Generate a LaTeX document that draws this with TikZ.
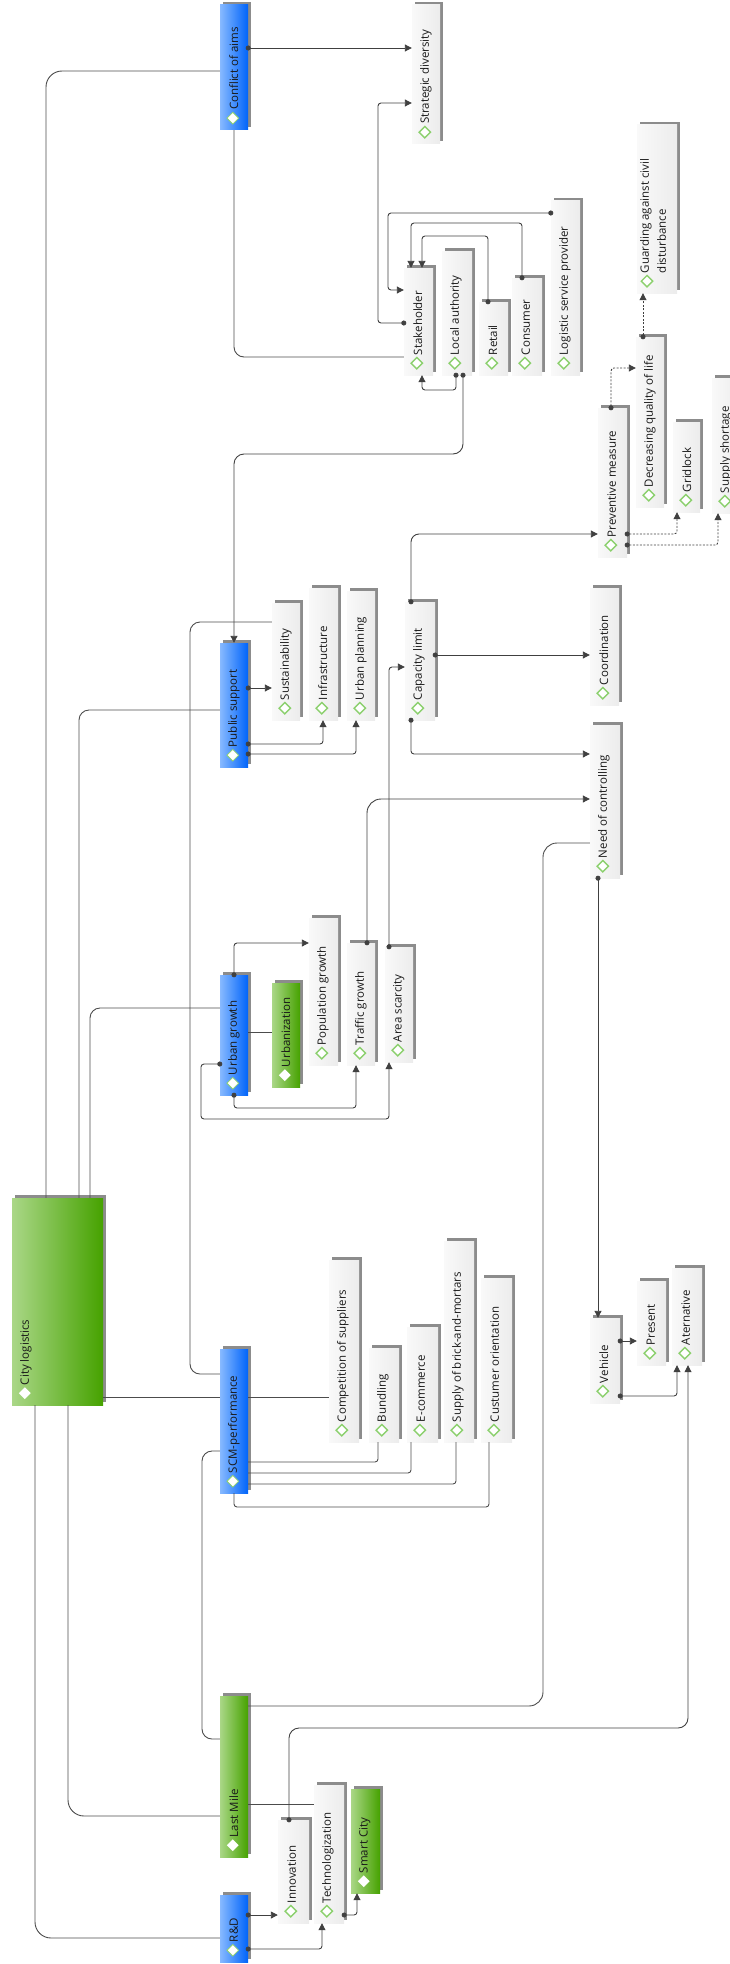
\documentclass[tikz,border=0pt]{standalone}
\usepackage{fontspec}
\newfontfamily\lblfont{Open Sans}
\usetikzlibrary{arrows.meta,shapes.geometric,shadows}
\definecolor{blueL}{RGB}{135,185,255}
\definecolor{blueR}{RGB}{0,100,250}
\definecolor{greenL}{RGB}{170,215,135}
\definecolor{greenR}{RGB}{70,162,0}
\definecolor{grayL}{RGB}{249,249,249}
\definecolor{grayR}{RGB}{236,236,236}
\definecolor{diaG}{RGB}{140,208,110}
\tikzset{
  box/.style={rectangle,inner sep=0pt,general shadow={fill=black!45,shadow xshift=3pt,shadow yshift=3pt}},
  bluebox/.style={left color=blueL,right color=blueR},
  greenbox/.style={left color=greenL,right color=greenR},
  graybox/.style={left color=grayL,right color=grayR},
  dia/.style={diamond,aspect=1,minimum size=12pt,inner sep=0pt,fill=white},
  bluebox dia/.style={draw=diaG,line width=0.8pt},
  greenbox dia/.style={},
  graybox dia/.style={draw=diaG,line width=1.4pt},
  lbl/.style={inner sep=0pt,text=black!90,font=\lblfont\fontsize{11.5}{14}\selectfont},
  link/.style={{Circle[length=5pt]}-{Triangle[length=7pt,width=7pt]},shorten <=-2.5pt,line width=0.9pt,draw=black!75,rounded corners=3pt},
  dlink/.style={link,dash pattern=on 2pt off 1.5pt},
  plain/.style={line width=0.9pt,draw=black!70,rounded corners=10pt}
}
\newcommand{\ent}[7]{%
  \node[box,#2,minimum width={(#5-#3)*1pt},minimum height={(#6-#4)*1pt}] (#1) at ({(#3+#5)/2},{(#4+#6)/2}) {};
  \node[dia,#2 dia] (#1-d) at ([xshift=13,yshift=12]#1.south west) {};
  \node[lbl,rotate=90,anchor=west] (#1-t) at ([xshift=14,yshift=20]#1.south west) {#7};
}

\begin{document}
\begin{tikzpicture}[x=1pt,y=-1pt]
\useasboundingbox (0,0) rectangle (730,1964);
\ent{ca}{bluebox}{220}{5}{248}{130}{Conflict of aims}
\ent{sd}{graybox}{412}{5}{440}{144}{Strategic diversity}
\ent{sh}{graybox}{404}{268}{433}{375}{Stakeholder}
\ent{la}{graybox}{442}{251}{472}{375}{Local authority}
\ent{ret}{graybox}{479}{302}{508}{375}{Retail}
\ent{con}{graybox}{512}{278}{542}{375}{Consumer}
\ent{lsp}{graybox}{551}{201}{580}{375}{Logistic service provider}
\node[box,graybox,minimum width=40pt,minimum height=168pt] (gd) at (657,209) {};
\node[dia,graybox dia] (gd-d) at ([xshift=-10,yshift=12]gd.south) {};
\node[lbl,rotate=90,anchor=north west,align=left,font=\lblfont\fontsize{11.5}{17}\selectfont] (gd-t) at ([xshift=-17,yshift=20]gd.south) {Guarding against civil\\disturbance};
\ent{dql}{graybox}{636}{337}{664}{507}{Decreasing quality of life}
\ent{pm}{graybox}{598}{408}{627}{557}{Preventive measure}
\ent{gl}{graybox}{673}{422}{700}{512}{Gridlock}
\ent{ss}{graybox}{712}{378}{741}{513}{Supply shortage}
\ent{ps}{bluebox}{220}{643}{248}{767}{Public support}
\ent{sus}{graybox}{272}{603}{300}{720}{Sustainability}
\ent{inf}{graybox}{309}{588}{338}{720}{Infrastructure}
\ent{up}{graybox}{347}{591}{375}{720}{Urban planning}
\ent{cap}{graybox}{405}{602}{435}{720}{Capacity limit}
\ent{coo}{graybox}{590}{588}{619}{705}{Coordination}
\ent{nc}{graybox}{590}{725}{620}{878}{Need of controlling}
\ent{ug}{bluebox}{220}{975}{248}{1095}{Urban growth}
\ent{urb}{greenbox}{272}{983}{300}{1087}{Urbanization}
\ent{pg}{graybox}{309}{918}{338}{1065}{Population growth}
\ent{tg}{graybox}{347}{943}{375}{1065}{Traffic growth}
\ent{as}{graybox}{385}{947}{413}{1062}{Area scarcity}
\ent{cl}{greenbox}{12}{1198}{103}{1405}{City logistics}
\ent{scm}{bluebox}{220}{1349}{248}{1493}{SCM-performance}
\ent{cs}{graybox}{329}{1260}{359}{1442}{Competition of suppliers}
\ent{bun}{graybox}{369}{1348}{399}{1442}{Bundling}
\ent{ec}{graybox}{407}{1327}{438}{1442}{E-commerce}
\ent{sbm}{graybox}{444}{1241}{474}{1442}{Supply of brick-and-mortars}
\ent{co}{graybox}{481}{1278}{512}{1442}{Custumer orientation}
\ent{veh}{graybox}{590}{1318}{620}{1403}{Vehicle}
\ent{pre}{graybox}{637}{1281}{666}{1365}{Present}
\ent{alt}{graybox}{672}{1268}{702}{1365}{Aternative}
\ent{lm}{greenbox}{220}{1696}{248}{1857}{Last Mile}
\ent{inn}{graybox}{278}{1820}{309}{1923}{Innovation}
\ent{tec}{graybox}{314}{1785}{344}{1923}{Technologization}
\ent{sc}{greenbox}{351}{1789}{380}{1893}{Smart City}
\ent{rd}{bluebox}{220}{1895}{248}{1962}{R\&D}

\draw[plain,rounded corners=16pt] (cl.north -| 46,0) |- (ca.west |- 0,71);
\draw[plain] (cl.north -| 79,0) |- (ps.west |- 0,710);
\draw[plain] (cl.north -| 90,0) |- (ug.west |- 0,1008);
\draw[plain] (cl.east |- 0,1397) -- (scm.west |- 0,1397);
\draw[plain,rounded corners=16pt] (cl.south -| 35,0) |- (rd.west |- 0,1938);
\draw[plain,rounded corners=16pt] (cl.south -| 68,0) |- (lm.west |- 0,1816);

\draw[link] (ca.east |- 0,48) -- (sd.west |- 0,48);
\draw[plain] (ca.south) |- (sh.west |- 0,357);
\draw[link] (sh.west |- 0,323) -| (378,103) -- (sd.west |- 0,103);
\draw[link] (lsp.west |- 0,213) -| (388,290) -- (sh.west |- 0,290);
\draw[link] (con.north -| 522,0) |- (411,223) -- (sh.north -| 411,0);
\draw[link] (ret.north -| 488,0) |- (422,236) -- (sh.north -| 422,0);
\draw[link] (la.south -| 456,0) |- (422,390) -- (sh.south -| 422,0);
\draw[link,rounded corners=10pt] (la.south -| 463,0) |- (ps.north |- 0,454) -- (ps.north);

\draw[link] (ps.east |- 0,688) -- (sus.west |- 0,688);
\draw[link] (ps.east |- 0,744) -| (inf.south -| 323,0);
\draw[link] (ps.east |- 0,754) -| (up.south -| 356,0);
\draw[plain] (sus.west |- 0,622) -| (190,1374) -- (scm.west |- 0,1374);

\draw[plain] (ug.east |- 0,1032) -- (urb.west |- 0,1032);
\draw[link] (ug.north) |- (pg.west |- 0,943);
\draw[link] (ug.south) |- (356,1108) -- (tg.south -| 356,0);
\draw[link] (ug.west |- 0,1064) -| (201,1119) -| (as.south -| 389,0);
\draw[link,rounded corners=14pt] (tg.north -| 367,0) |- (nc.west |- 0,799);
\draw[link] (as.north -| 389,0) |- (cap.west |- 0,667);

\draw[link] (cap.east |- 0,655) -- (coo.west |- 0,655);
\draw[link] (cap.south -| 411,0) |- (nc.west |- 0,754);
\draw[link,rounded corners=8pt] (cap.north -| 411,0) |- (pm.west |- 0,534);
\draw[dlink] (pm.north -| 611,0) |- (dql.west |- 0,368);
\draw[dlink] (dql.north -| 643,0) -- (gd.south -| 643,0);
\draw[dlink] (pm.east |- 0,534) -| (gl.south -| 677,0);
\draw[dlink] (pm.east |- 0,545) -| (ss.south -| 718,0);

\draw[plain] (scm.east |- 0,1397) -- (cs.west |- 0,1397);
\draw[plain,rounded corners=3pt] (bun.south -| 378,0) |- (scm.east |- 0,1462);
\draw[plain,rounded corners=3pt] (ec.south -| 411,0) |- (scm.east |- 0,1473);
\draw[plain,rounded corners=3pt] (sbm.south -| 456,0) |- (scm.east |- 0,1484);
\draw[plain,rounded corners=3pt] (co.south -| 489,0) |- (scm.south |- 0,1507) -- (scm.south);
\draw[plain] (scm.west |- 0,1451) -| (202,1739) -- (lm.west |- 0,1739);

\draw[plain,rounded corners=14pt] (lm.east |- 0,1706) -| (543,843) -- (nc.west |- 0,843);
\draw[plain] (lm.east |- 0,1804) -- (tec.west |- 0,1804);
\draw[link,rounded corners=10pt] (inn.north -| 289,0) |- (688,1728) -- (alt.south -| 688,0);
\draw[link] (rd.east |- 0,1915) -- (inn.west |- 0,1915);
\draw[link] (rd.east |- 0,1949) -| (tec.south -| 322,0);
\draw[link] (tec.east |- 0,1915) -| (sc.south -| 357,0);

\draw[link] (nc.south -| 598,0) -- (veh.north -| 598,0);
\draw[link] (veh.east |- 0,1341) -- (pre.west |- 0,1341);
\draw[link] (veh.east |- 0,1396) -| (alt.south -| 677,0);
\end{tikzpicture}
\end{document}
